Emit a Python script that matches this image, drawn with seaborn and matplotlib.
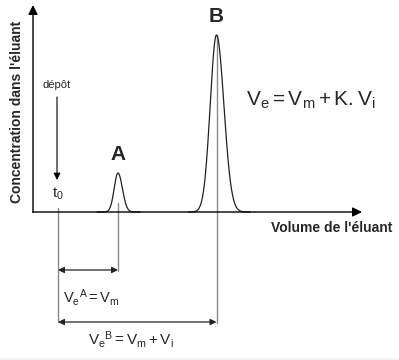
import numpy as np
import pandas as pd
import seaborn as sns
import matplotlib.pyplot as plt

# chromatogram: two peaks (A and B) on a volume axis, injection at t0
peak_names = ["A", "B"]
peak_volumes = [85, 183.5]
peak_heights = [39, 177]
peak_sigma_left = [3.8, 6.3]
peak_sigma_right = [4.4, 7.4]
peak_spans = [(-21, 22), (-28, 34)]

t0_volume = 25
axis_x_end = 329
axis_y_end = 207

# annotation levels (below the baseline)
arrow_a_level = -58
arrow_b_level = -110
label_a_level = -85
label_b_level = -128

sns.set_style("white")
plt.rcParams['font.family'] = ['Liberation Sans', 'DejaVu Sans']
plt.rcParams['mathtext.fontset'] = 'custom'
plt.rcParams['mathtext.rm'] = 'Liberation Sans'
plt.rcParams['mathtext.it'] = 'Liberation Sans'


def peak_frame(center, height, sl, sr, span):
    # asymmetric gaussian for a slightly tailing peak
    x = np.linspace(center + span[0], center + span[1], 300)
    sig = np.where(x < center, sl, sr)
    y = height * np.exp(-0.5 * ((x - center) / sig) ** 2)
    return pd.DataFrame({"volume": x, "concentration": y})


fig = plt.figure(figsize=(3.99, 3.6), dpi=100)
ax = fig.add_axes([0, 0, 1, 1])
ax.set_xlim(-33, 366)
ax.set_ylim(-148, 212)
ax.axis("off")

# axes with arrows
ax.annotate("", xy=(0, axis_y_end), xytext=(0, -0.5),
            arrowprops=dict(arrowstyle="-|>", color="black", lw=1, mutation_scale=14, shrinkA=0, shrinkB=0))
ax.annotate("", xy=(axis_x_end, 0), xytext=(0, 0),
            arrowprops=dict(arrowstyle="-|>", color="black", lw=1, mutation_scale=14, shrinkA=0, shrinkB=0))

# vertical guide lines (gray)
guide = "#8a8a8a"
ax.plot([t0_volume, t0_volume], [4, arrow_b_level], color=guide, lw=1)
ax.plot([peak_volumes[0], peak_volumes[0]], [9, arrow_a_level - 1], color=guide, lw=1)
ax.plot([peak_volumes[1], peak_volumes[1]], [peak_heights[1], arrow_b_level - 1], color=guide, lw=1)

# peaks
for i, name in enumerate(peak_names):
    df = peak_frame(peak_volumes[i], peak_heights[i], peak_sigma_left[i], peak_sigma_right[i], peak_spans[i])
    sns.lineplot(data=df, x="volume", y="concentration", ax=ax, color="#222222", lw=0.9)
    ax.text(peak_volumes[i], peak_heights[i] + 9, name, ha="center", va="bottom",
            fontsize=15, fontweight="bold")

# deposit arrow
ax.text(t0_volume - 1, 127, "dépôt", ha="center", va="center", fontsize=8, color="#222222")
ax.annotate("", xy=(t0_volume - 1, 32), xytext=(t0_volume - 1, 115),
            arrowprops=dict(arrowstyle="-|>", color="black", lw=0.8, mutation_scale=10, shrinkA=0, shrinkB=0))
ax.text(t0_volume, 18, "$\\mathrm{t_0}$", ha="center", va="center", fontsize=11)

# axis titles
ax.text(-16, 100, "Concentration dans l'éluant", rotation=90, ha="center", va="center",
        fontsize=10, fontweight="bold")
ax.text(359, -16, "Volume de l'éluant", ha="right", va="center", fontsize=10, fontweight="bold")

# formula
ax.text(278, 112, "$\\mathrm{V_e = V_m + K.V_i}$", ha="center", va="center", fontsize=15)

# elution volume arrows
ax.annotate("", xy=(peak_volumes[0], arrow_a_level), xytext=(t0_volume, arrow_a_level),
            arrowprops=dict(arrowstyle="<|-|>", color="#222222", lw=0.9, mutation_scale=9, shrinkA=0, shrinkB=0))
ax.annotate("", xy=(peak_volumes[1], arrow_b_level), xytext=(t0_volume, arrow_b_level),
            arrowprops=dict(arrowstyle="<|-|>", color="#222222", lw=0.9, mutation_scale=9, shrinkA=0, shrinkB=0))
ax.text(30, label_a_level, "$\\mathrm{V_e{}^A = V_m}$", ha="left", va="center", fontsize=10.5)
ax.text(98, label_b_level, "$\\mathrm{V_e{}^B = V_m + V_i}$", ha="center", va="center", fontsize=11)

ax.axhspan(-148, -146, color="#f2f2f7", lw=0)

fig.savefig("out.png", dpi=100)
